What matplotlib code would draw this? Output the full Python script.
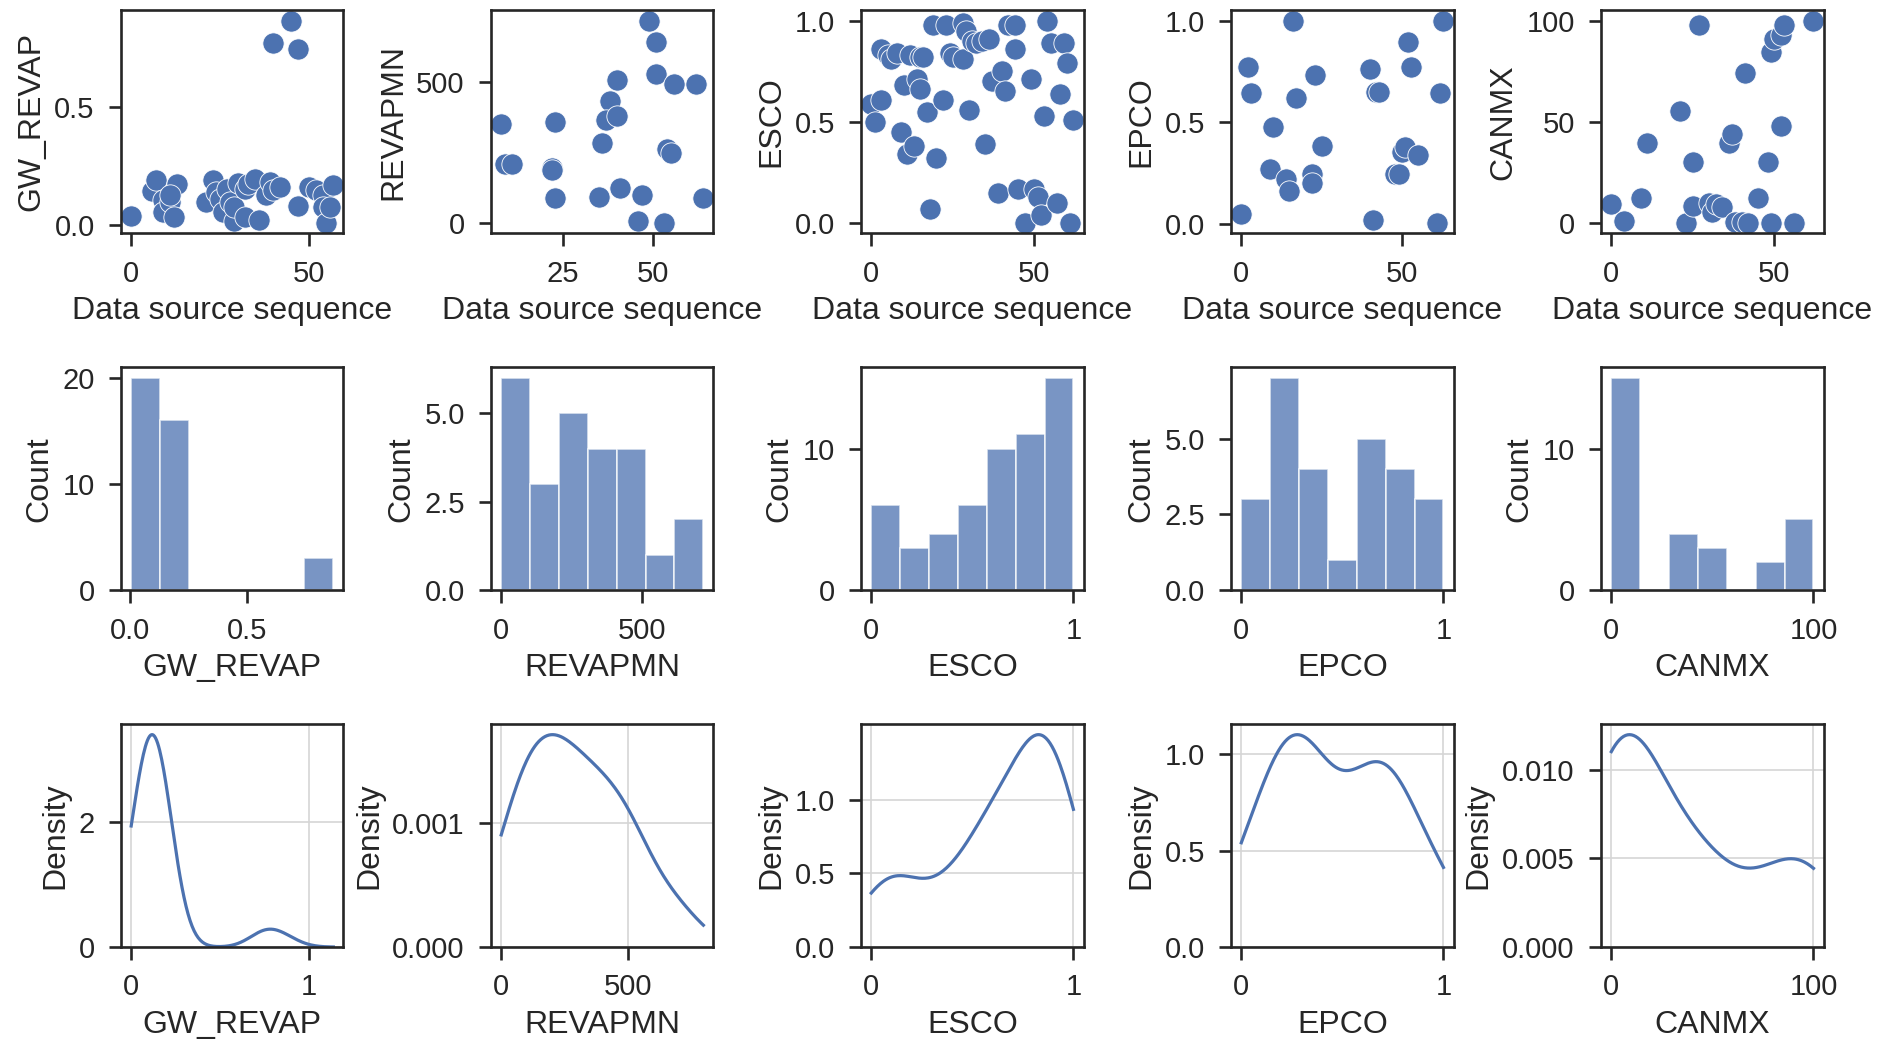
import numpy as np
import matplotlib
matplotlib.use("Agg")
import matplotlib.pyplot as plt


PARAMS = ["GW_REVAP", "REVAPMN", "ESCO", "EPCO", "CANMX"]

# valores: (secuencia de la fuente, valor del parametro)
GW_REVAP_SEQ = [0, 6, 7, 9, 9, 11, 12, 13, 11, 21, 23, 24, 25, 26, 27, 28, 29, 29, 30, 32,
                32, 33, 35, 36, 38, 39, 40, 40, 42, 45, 47, 47, 50, 52, 54, 54, 55, 56, 57]
GW_REVAP_VAL = [0.039, 0.142, 0.19, 0.104, 0.056, 0.097, 0.035, 0.174, 0.125, 0.097, 0.19,
                0.139, 0.111, 0.056, 0.153, 0.097, 0.017, 0.075, 0.178, 0.035, 0.153, 0.174,
                0.194, 0.021, 0.125, 0.18, 0.146, 0.767, 0.16, 0.864, 0.743, 0.08, 0.16,
                0.146, 0.125, 0.076, 0.007, 0.076, 0.168]

REVAPMN_SEQ = [8, 9, 11, 22, 22, 23, 23, 35, 36, 38, 37, 40, 40, 41, 46, 47, 49, 51, 51, 53,
               54, 55, 56, 62, 64]
REVAPMN_VAL = [353, 209, 209, 198, 190, 361, 88, 94, 285, 435, 365, 382, 509, 124, 9, 100,
               720, 645, 529, 0, 265, 249, 496, 496, 91]

ESCO_SEQ = [0, 1, 3, 3, 5, 6, 8, 9, 10, 11, 12, 13, 14, 15, 15, 16, 17, 18, 19, 20, 22, 23,
            24, 25, 28, 28, 29, 30, 31, 32, 34, 35, 36, 37, 39, 40, 41, 42, 44, 44, 45, 47,
            49, 50, 51, 52, 53, 54, 55, 57, 58, 59, 60, 61, 62]
ESCO_VAL = [0.59, 0.50, 0.61, 0.86, 0.83, 0.81, 0.84, 0.45, 0.68, 0.34, 0.83, 0.38, 0.71,
            0.82, 0.66, 0.82, 0.55, 0.07, 0.98, 0.32, 0.61, 0.98, 0.84, 0.82, 0.81, 0.99,
            0.95, 0.56, 0.90, 0.89, 0.90, 0.39, 0.91, 0.70, 0.15, 0.75, 0.65, 0.98, 0.98,
            0.86, 0.17, 0.00, 0.71, 0.17, 0.13, 0.04, 0.53, 1.00, 0.89, 0.10, 0.64, 0.89,
            0.79, 0.00, 0.51]

EPCO_SEQ = [0, 2, 3, 9, 10, 14, 15, 16, 17, 22, 22, 23, 25, 40, 41, 42, 43, 48, 49, 50, 51,
            52, 53, 55, 61, 62, 63]
EPCO_VAL = [0.05, 0.77, 0.645, 0.27, 0.475, 0.22, 0.16, 0.998, 0.62, 0.245, 0.20, 0.73,
            0.385, 0.76, 0.02, 0.65, 0.65, 0.245, 0.245, 0.355, 0.38, 0.895, 0.77, 0.34,
            0.003, 0.645, 1.0]

CANMX_SEQ = [0, 4, 9, 11, 21, 23, 25, 25, 27, 30, 31, 32, 34, 36, 37, 38, 40, 41, 42, 45,
             48, 49, 50, 49, 52, 52, 53, 56, 62]
CANMX_VAL = [9.4, 1.1, 12.5, 39.5, 55.3, 0, 8.5, 30.1, 97.6, 10.2, 5.4, 9.4, 7.8, 39.8,
             44.2, 0.8, 0.5, 74, 0.3, 12.5, 30.1, 84.5, 91, 0.3, 48, 92.7, 97.6, 0.3, 100]

SEQS = [GW_REVAP_SEQ, REVAPMN_SEQ, ESCO_SEQ, EPCO_SEQ, CANMX_SEQ]
VALS = [GW_REVAP_VAL, REVAPMN_VAL, ESCO_VAL, EPCO_VAL, CANMX_VAL]

# limites de recorte de la densidad
KDE_CLIP = [(0, np.inf), (0, 800), (0, 1), (0, 1), (0, 100)]

SCATTER_XTICKS = [[0, 50], [25, 50], [0, 50], [0, 50], [0, 50]]
SCATTER_YTICKS = [[0.0, 0.5], [0, 500], [0.0, 0.5, 1.0], [0.0, 0.5, 1.0], [0, 50, 100]]
HIST_XTICKS = [[0.0, 0.5], [0, 500], [0, 1], [0, 1], [0, 100]]
HIST_YTICKS = [[0, 10, 20], [0.0, 2.5, 5.0], [0, 10], [0.0, 2.5, 5.0], [0, 10]]
KDE_XTICKS = [[0, 1], [0, 500], [0, 1], [0, 1], [0, 100]]
KDE_YTICKS = [[0, 2], [0.000, 0.001], [0.0, 0.5, 1.0], [0.0, 0.5, 1.0], [0.000, 0.005, 0.010]]

BLUE = "#4c72b0"
DARK = "#262626"


def kde(values, clip, cut=3, gridsize=200):
    """Densidad gaussiana (regla de Scott), como kdeplot de seaborn."""
    v = np.asarray(values, dtype=float)
    bw = v.std(ddof=1) * len(v) ** (-1 / 5)
    lo = max(v.min() - cut * bw, clip[0])
    hi = min(v.max() + cut * bw, clip[1])
    grid = np.linspace(lo, hi, gridsize)
    z = (grid[:, None] - v[None, :]) / bw
    dens = np.exp(-0.5 * z**2).sum(axis=1) / (len(v) * bw * np.sqrt(2 * np.pi))
    return grid, dens


def estilo(ax, xticks, yticks, grid=False):
    ax.set_xticks(xticks)
    ax.set_yticks(yticks)
    for s in ax.spines.values():
        s.set_linewidth(1.9)
        s.set_color(DARK)
    ax.tick_params(direction="out", length=9, width=1.9, color=DARK,
                   labelsize=21, labelcolor=DARK, pad=10)
    ax.xaxis.labelpad = 6
    ax.yaxis.labelpad = 6
    if grid:
        ax.grid(True, color="#d5d5d5", linewidth=1.2)
        ax.set_axisbelow(True)


plt.rcParams["font.family"] = ["Liberation Sans", "DejaVu Sans"]
plt.rcParams["axes.labelsize"] = 23
plt.rcParams["axes.labelcolor"] = DARK

fig, axes = plt.subplots(3, 5, figsize=(18.8, 10.39), dpi=100)
fig.subplots_adjust(left=0.0644, right=0.970, top=0.990, bottom=0.0885,
                    wspace=0.664, hspace=0.60)

for i, nombre in enumerate(PARAMS):
    # fila 1: valores por secuencia
    ax = axes[0, i]
    ax.scatter(SEQS[i], VALS[i], s=235, color=BLUE, edgecolor="white", linewidth=0.6)
    ax.set_xlabel("Data source sequence")
    ax.set_ylabel(nombre)
    estilo(ax, SCATTER_XTICKS[i], SCATTER_YTICKS[i])

    # fila 2: histograma
    ax = axes[1, i]
    ax.hist(VALS[i], bins=7, color=BLUE, alpha=0.75, edgecolor="white", linewidth=1.2)
    ax.set_xlabel(nombre)
    ax.set_ylabel("Count")
    estilo(ax, HIST_XTICKS[i], HIST_YTICKS[i])

    # fila 3: densidad
    ax = axes[2, i]
    x, d = kde(VALS[i], KDE_CLIP[i])
    ax.plot(x, d, color=BLUE, linewidth=2.3)
    ax.set_ylim(0, d.max() * 1.05)
    ax.set_xlabel(nombre)
    ax.set_ylabel("Density")
    estilo(ax, KDE_XTICKS[i], KDE_YTICKS[i], grid=True)

fig.savefig("out.png", dpi=100)
